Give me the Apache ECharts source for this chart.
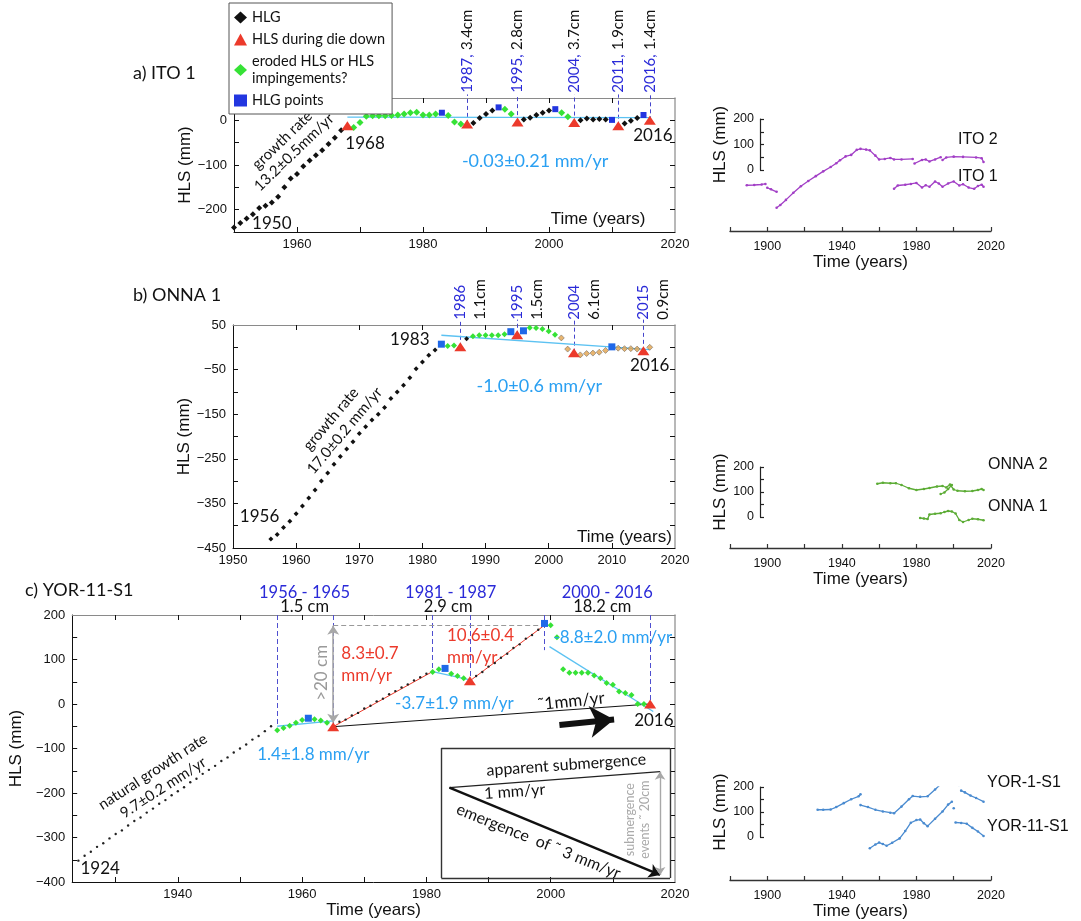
<!DOCTYPE html>
<html><head><meta charset="utf-8">
<script src="https://cdn.jsdelivr.net/npm/echarts@6/dist/echarts.min.js"></script>
<style>html,body{margin:0;padding:0;background:#fff}#c{width:1081px;height:921px}</style>
</head><body><div id="c"></div>
<script>
// ================= DATA =================
// ---- a) ITO 1 ----
const itoHLG = [[1950,-240],[1951,-230],[1952,-220],[1953,-210],[1954,-196],[1955,-191],[1956,-184],[1957,-171],[1958,-150],[1959,-130],[1960,-120],[1961,-103],[1962,-90],[1963,-78],[1964,-67],[1965,-53],[1966,-39],[1967,-22],
  [1988,-6],[1989,5],[1990,14],[1991,22],[1996,2],[1997,6],[1998,12],[1999,17],[2000,22],[2005,0],[2006,4],[2007,2],[2008,3],[2009,2],[2012,-7],[2013,-1],[2014,5]];
const itoDieDown = [[1968,-12],[1987,-8],[1995,-4],[2004,-5],[2011,-12],[2016,0]];
const itoEroded = [[1969,-16],[1970,-5],[1971,9],[1972,10],[1973,10],[1974,10],[1975,11],[1976,12],[1977,14],[1978,17],[1979,18],[1980,12],[1981,12],[1982,14],[1984,11],[1985,-4],[1986,-8],[1993,25],[1994,14],[2002,17],[2003,8]];
const itoHLGPoints = [[1983,17],[1992,29],[2001,25],[2010,1],[2015,12]];
const itoTrend = [[1968,7],[2016,6]];
const itoEventYears = [1987,1995,2004,2011,2016];
const itoEventDrop = ['3.4cm','2.8cm','3.7cm','1.9cm','1.4cm'];

// ---- b) ONNA 1 ----
const onnaHLG = [[1956,-430],[1957,-420],[1958,-404],[1959,-390],[1960,-373],[1961,-356],[1962,-338],[1963,-320],[1964,-300],[1965,-282],[1966,-262],[1967,-245],[1968,-228],[1969,-212],[1970,-193],[1971,-178],[1972,-163],[1973,-150],[1974,-135],[1975,-115],[1976,-100],[1977,-85],[1978,-68],[1979,-48],[1980,-33],[1981,-18],[1982,-6],[1987,19]];
const onnaHLGLate = [[2002,21],[2003,-4],[2005,-17],[2006,-14],[2007,-13],[2008,-11],[2009,-7],[2011,-2],[2012,-3],[2013,-3],[2014,-4],[2016,0]];
const onnaDieDown = [[1986,1],[1995,28],[2004,-12],[2015,-8]];
const onnaEroded = [[1984,3],[1985,4],[1988,25],[1989,27],[1990,27],[1991,27],[1992,27],[1993,29],[1997,44],[1998,43],[1999,41],[2000,36],[2001,28]];
const onnaHLGPoints = [[1983,7],[1994,35],[1996,37],[2010,1]];
const onnaTrend = [[1983,27],[2016,-5]];
const onnaEventYears = [1986,1995,2004,2015];
const onnaEventDrop = ['1.1cm','1.5cm','6.1cm','0.9cm'];

// ---- c) YOR-11-S1 ----
const yorHLG = [[1924,-352],[1925,-341],[1926,-332],[1927,-321],[1928,-313],[1929,-302],[1930,-292],[1931,-284],[1932,-273],[1933,-263],[1934,-255],[1935,-244],[1936,-235],[1937,-224],[1938,-216],[1939,-205],[1940,-196],[1941,-187],[1942,-176],[1943,-168],[1944,-157],[1945,-148],[1946,-139],[1947,-128],[1948,-120],[1949,-109],[1950,-100],[1951,-91],[1952,-80],[1953,-72],[1954,-61],[1955,-50],
  [1966,-40],[1967,-35],[1968,-26],[1969,-20],[1970,-10],[1971,-4],[1972,6],[1973,12],[1974,22],[1975,29],[1976,37],[1977,44],[1978,53],[1979,60],[1980,68],
  [1988,63],[1989,72],[1990,84],[1991,92],[1992,104],[1993,113],[1994,126],[1995,134],[1996,147],[1997,155],[1998,167]];
const yorDieDown = [[1965,-51],[1987,52],[2016,0]];
const yorEroded = [[1956,-59],[1957,-54],[1958,-49],[1959,-42],[1960,-36],[1962,-34],[1963,-37],[1964,-42],[1981,72],[1982,78],[1984,68],[1985,63],[1986,58],
  [2000,177],[2001,150],[2002,78],[2003,70],[2004,70],[2005,70],[2006,70],[2007,64],[2008,58],[2009,47],[2010,43],[2011,28],[2012,25],[2013,20],[2014,0],[2015,0]];
const yorHLGPoints = [[1961,-32],[1983,80],[1999,181]];
const yorTrends = [[[1956,-50],[1965,-38]],[[1981,73],[1987,54]],[[1999.8,129],[2016.5,-17]]];
const yorRises = [[[1965,-51],[1981,73]],[[1987,52],[1999,177]]];
const yorLongTerm = [[1965,-51],[2016,0]];
const yorEventYears = [1956,1965,1981,1987,1999,2016];
const yorEventBottom = [-47,-45,73,52,121,0];
const yorPeriods = ['1956 - 1965','1981 - 1987','2000 - 2016'];
const yorPeriodDrop = ['1.5 cm','2.9 cm','18.2 cm'];
const yorSubmergence = [[1965,-42],[1965,176]];
const yorPeak = [[1965,177],[1999,177]];

// ---- small panels ----
const ito2 = [
  [[1889,-62],[1893,-61],[1897,-59],[1899,-57]],
  [[1900,-72],[1902,-78],[1905,-88]],
  [[1905,-151],[1907,-140],[1910,-120],[1914,-92],[1918,-66],[1922,-45],[1926,-26],[1930,-7],[1934,10],[1937,25],[1939,37],[1942,52],[1945,58],[1948,78],[1950,82],[1953,79],[1955,76],[1958,55],[1960,40],[1963,42],[1966,46],[1968,40],[1972,40],[1978,42]],
  [[1979,24],[1983,38],[1985,40],[1987,32],[1990,40],[1993,49]],
  [[1994,38],[1996,48],[2000,51],[2005,50],[2012,48],[2015,45],[2016,30]]];
const ito1 = [[[1968,-76],[1970,-63],[1974,-60],[1977,-57],[1980,-53],[1983,-71],[1985,-62],[1987,-68],[1990,-47],[1992,-55],[1994,-68],[1997,-55],[2000,-47],[2003,-63],[2005,-58],[2008,-71],[2011,-76],[2013,-65],[2015,-60],[2016,-68]]];
const onna2 = [
  [[1959,133],[1962,137],[1966,135],[1969,135],[1972,128],[1976,115],[1980,108],[1984,112],[1987,116],[1991,122],[1994,124],[1996,118],[1998,130],[2000,110],[2002,105],[2006,103],[2010,104],[2013,108],[2015,112],[2016,108]],
  [[1993,92],[1995,98],[1997,112],[1999,128]]];
const onna1 = [[[1982,-4],[1984,-6],[1986,-8],[1987,10],[1990,13],[1993,15],[1995,20],[1997,24],[1999,22],[2001,14],[2003,-12],[2005,-20],[2008,-12],[2010,-7],[2013,-9],[2016,-13]]];
const yor1 = [
  [[1927,107],[1930,107],[1934,108],[1937,118],[1941,134],[1945,150],[1949,162],[1950,170]],
  [[1950,126],[1954,118],[1958,107],[1962,100],[1966,95],[1968,93],[1972,120],[1976,150],[1978,163],[1982,160],[1986,162],[1990,190],[1994,218],[1998,245],[1999,240]],
  [[2000,210],[2003,206]],
  [[2004,185],[2006,178],[2009,165],[2012,155],[2016,140]]];
const yor11 = [
  [[1955,-50],[1958,-35],[1960,-27],[1962,-33],[1964,-40],[1967,-28],[1971,-10],[1974,20],[1977,54],[1980,65],[1982,67],[1984,52],[1986,40],[1990,70],[1994,100],[1997,128],[1999,140]],
  [[2000,113]],
  [[2001,55],[2004,53],[2007,50],[2010,33],[2013,18],[2016,0]]];

// ---- tick labels ----
const aXTicks = [1960,1970,1980,1990,2000,2010], aXLabels = [1960,1980,2000,2020];
const aYTicks = [-200,-150,-100,-50,0], aYLabels = [-200,-100,0];
const bXTicks = [1960,1970,1980,1990,2000,2010], bXLabels = [1950,1960,1970,1980,1990,2000,2010,2020];
const bYTicks = [-400,-350,-300,-250,-200,-150,-100,-50,0], bYLabels = [-450,-350,-250,-150,-50,50];
const cXTicks = [1930,1940,1950,1960,1970,1980,1990,2000,2010], cXLabels = [1940,1960,1980,2000,2020];
const cYTicks = [-350,-300,-250,-200,-150,-100,-50,0,50,100,150], cYLabels = [-400,-300,-200,-100,0,100,200];
const sXTicks = [1880,1900,1920,1940,1960,1980,2000,2020], sXLabels = [1900,1940,1980,2020];
const sYTicks = [0,50,100,150,200], sYLabels = [0,100,200];

// ================= STYLE =================
const FT = '"Liberation Sans", Arial, sans-serif';
const FA = 'Lato, "Open Sans", sans-serif';
const INK = '#111';
const GREEN = '#36e236', RED = '#ec3a2b', BLUE_A = '#2236e0', BLUE_B = '#1f68e8';
const CYAN = '#5cc2f2', CYAN_T = '#2aa0f2', DASH = '#4444cc', LBLUE = '#2a2ad8';
const GREY = '#a8a8a8';
const neg = v => v < 0 ? '\u2212' + (-v) : '' + v;
const plain = v => '' + v;

const xAxis = [], yAxis = [];
function mainAxes(g, xr, yr, xt, xl, yt, yl, yName, yGap, xName) {
  xAxis.push({gridIndex: g, type: 'value', min: xr[0], max: xr[1], position: 'bottom',
    axisLine: {onZero: false, lineStyle: {color: INK, width: 1}},
    axisTick: {inside: true, length: 5, customValues: xt, lineStyle: {color: INK}},
    axisLabel: {customValues: xl, fontSize: 13, fontFamily: FT, color: INK, margin: 6, formatter: plain},
    splitLine: {show: false},
    name: xName || '', nameLocation: 'middle', nameGap: 20,
    nameTextStyle: {fontSize: 17, fontFamily: FT, color: INK}});
  xAxis.push({gridIndex: g, type: 'value', min: xr[0], max: xr[1], position: 'top',
    axisLine: {onZero: false, lineStyle: {color: '#8a8a8a', width: 1}},
    axisTick: {inside: true, length: 5, customValues: xt, lineStyle: {color: INK}},
    axisLabel: {show: false}, splitLine: {show: false}});
  yAxis.push({gridIndex: g, type: 'value', min: yr[0], max: yr[1], position: 'left',
    axisLine: {onZero: false, lineStyle: {color: INK, width: 1}},
    axisTick: {inside: true, length: 5, customValues: yt, lineStyle: {color: INK}},
    axisLabel: {customValues: yl, fontSize: 13, fontFamily: FT, color: INK, margin: 7, formatter: neg},
    splitLine: {show: false},
    name: yName, nameLocation: 'middle', nameGap: yGap,
    nameTextStyle: {fontSize: 17, fontFamily: FT, color: INK}});
  yAxis.push({gridIndex: g, type: 'value', min: yr[0], max: yr[1], position: 'right',
    axisLine: {onZero: false, lineStyle: {color: '#a0a0a0', width: 1.5}},
    axisTick: {inside: true, length: 5, customValues: yt, lineStyle: {color: INK}},
    axisLabel: {show: false}, splitLine: {show: false}});
}
mainAxes(0, [1950, 2020], [-250, 50], aXTicks, aXLabels, aYTicks, aYLabels, 'HLS (mm)', 36);
mainAxes(1, [1950, 2020], [-450, 50], bXTicks, bXLabels, bYTicks, bYLabels, 'HLS (mm)', 36);
mainAxes(2, [1923, 2020], [-400, 200], cXTicks, cXLabels, cYTicks, cYLabels, 'HLS (mm)', 36, 'Time (years)');
// small panels: x axes 6,7,8 ; hidden y 6,7,8
const smallY = [[-243, 200], [-124, 200], [-180, 200]];
for (let i = 0; i < 3; i++) {
  xAxis.push({gridIndex: 3 + i, type: 'value', min: 1880, max: 2020, position: 'bottom',
    axisLine: {onZero: false, lineStyle: {color: '#333', width: 1.4}},
    axisTick: {inside: true, length: 4, customValues: sXTicks, lineStyle: {color: '#333', width: 1.2}},
    axisLabel: {customValues: sXLabels, fontSize: 12.5, fontFamily: FT, color: INK, margin: 9, formatter: plain},
    splitLine: {show: false},
    name: 'Time (years)', nameLocation: 'middle', nameGap: 23,
    nameTextStyle: {fontSize: 17, fontFamily: FT, color: INK}});
}
for (let i = 0; i < 3; i++) {
  yAxis.push({gridIndex: 3 + i, type: 'value', min: smallY[i][0], max: smallY[i][1], show: false});
}
for (let i = 0; i < 3; i++) {
  xAxis.push({gridIndex: 6 + i, type: 'value', min: 0, max: 1, show: false});
  yAxis.push({gridIndex: 6 + i, type: 'value', min: 0, max: 200, position: 'left',
    axisLine: {onZero: false, lineStyle: {color: '#222', width: 1.2}},
    axisTick: {inside: true, length: 4, customValues: sYTicks, lineStyle: {color: '#222', width: 1.2}},
    axisLabel: {customValues: sYLabels, fontSize: 12.5, fontFamily: FT, color: INK, margin: 6},
    splitLine: {show: false},
    name: 'HLS (mm)', nameLocation: 'middle', nameGap: 30,
    nameTextStyle: {fontSize: 17, fontFamily: FT, color: INK}});
}

// ================= SERIES HELPERS =================
function pts(xi, name, data, symbol, size, color, extra) {
  return Object.assign({type: 'scatter', name: name, xAxisIndex: xi, yAxisIndex: xi, data: data,
    symbol: symbol, symbolSize: size, itemStyle: {color: color, opacity: 1}, silent: true, z: 5}, extra || {});
}
function segs(xi, list, color, width, type, symbol, symbolSize, z) {
  return {type: 'lines', coordinateSystem: 'cartesian2d', xAxisIndex: xi, yAxisIndex: xi, clip: false, silent: true,
    symbol: symbol || 'none', symbolSize: symbolSize || 8, z: z || 3,
    lineStyle: {color: color, width: width, type: type || 'solid', opacity: 1},
    data: list.map(c => ({coords: c}))};
}
function ann(xi, yi, items) {
  return {type: 'custom', xAxisIndex: xi, yAxisIndex: yi, silent: true, clip: false, z: 20,
    data: items.map(a => [a.x, a.y]),
    renderItem: function (params, api) {
      const a = items[params.dataIndex];
      const p = api.coord([api.value(0), api.value(1)]);
      return {type: 'text', x: p[0] + (a.dx || 0), y: p[1] + (a.dy || 0), rotation: (a.r || 0) * Math.PI / 180,
        style: {text: a.t, fill: a.c || INK, fontSize: a.s || 17, fontFamily: a.f || FA,
          align: a.a || 'center', verticalAlign: a.v || 'middle', lineHeight: a.lh, rich: a.rich}};
    }};
}
function curve(xi, list, color) {
  return list.map(seg => ({type: 'line', xAxisIndex: xi, yAxisIndex: xi, data: seg, silent: true,
    showSymbol: true, symbol: 'circle', symbolSize: 2.6, itemStyle: {color: color},
    lineStyle: {color: color, width: 1.3}}));
}
const valAt = (arr, yr) => { const p = arr.find(d => d[0] === yr); return p ? p[1] : 0; };

const series = [];
// ---------- panel a ----------
series.push(segs(0, itoEventYears.map(y => [[y, valAt(itoDieDown, y)], [y, 58]]), DASH, 1, [4, 3]));
series.push(segs(0, [itoTrend], CYAN, 1.3));
series.push(pts(0, 'HLG', itoHLG, 'diamond', 6, INK));
series.push(pts(0, 'eroded HLS or HLS impingements?', itoEroded, 'diamond', 7, GREEN));
series.push(pts(0, 'HLG points', itoHLGPoints, 'rect', 6, BLUE_A));
series.push(pts(0, 'HLS during die down', itoDieDown, 'triangle', [12, 9], RED, {z: 6}));
const richA = {b: {fill: LBLUE, fontSize: 15, fontFamily: FA}, k: {fill: INK, fontSize: 15, fontFamily: FA}};
series.push(ann(0, 0, [
  {t: '1968', x: 1970.8, y: -52},
  {t: '1950', x: 1956.0, y: -232},
  {t: '2016', x: 2016.5, y: -33},
  {t: '-0.03\u00b10.21 mm/yr', x: 1997.8, y: -91, s: 18, c: CYAN_T},
  {t: 'growth rate\n13.2\u00b10.5mm/yr', x: 1958.6, y: -58, r: 44, s: 15, lh: 17},
  {t: 'Time (years)', x: 2015.3, y: -221, a: 'right', f: FT}
].concat(itoEventYears.map((y, i) => ({t: '{b|' + y + ',} {k|' + itoEventDrop[i] + '}', x: y, y: 62, r: 90, a: 'left', rich: richA})))));

// ---------- panel b ----------
series.push(segs(2, onnaEventYears.map(y => [[y, valAt(onnaDieDown, y)], [y, 62]]), DASH, 1, [4, 3]));
series.push(segs(2, [onnaTrend], CYAN, 1.3));
series.push(pts(2, 'b HLG', onnaHLG, 'diamond', 5, INK));
series.push(pts(2, 'b HLG late', onnaHLGLate, 'diamond', 6, '#e2a24c', {itemStyle: {color: '#e2a24c', borderColor: '#555', borderWidth: 0.6}}));
series.push(pts(2, 'b eroded', onnaEroded, 'diamond', 6, GREEN));
series.push(pts(2, 'b HLG points', onnaHLGPoints, 'rect', 7, BLUE_B));
series.push(pts(2, 'b die down', onnaDieDown, 'triangle', [12, 9], RED, {z: 6}));
series.push(ann(2, 2, [
  {t: '1983', x: 1978.0, y: 18},
  {t: '1956', x: 1954.2, y: -379},
  {t: '2016', x: 2016.0, y: -40},
  {t: '-1.0\u00b10.6 mm/yr', x: 1998.5, y: -88, s: 18, c: CYAN_T},
  {t: 'growth rate\n17.0\u00b10.2 mm/yr', x: 1966.6, y: -174, r: 50, s: 15, lh: 18},
  {t: 'Time (years)', x: 2019.5, y: -425, a: 'right', f: FT}
].concat(onnaEventYears.map(y => ({t: '' + y, x: y, y: 62, r: 90, a: 'left', s: 15, c: LBLUE})))
 .concat(onnaEventYears.map((y, i) => ({t: onnaEventDrop[i], x: y, y: 62, dx: 20, r: 90, a: 'left', s: 15})))));

// ---------- panel c ----------
series.push(segs(4, yorEventYears.map((y, i) => [[y, 200], [y, yorEventBottom[i]]]), '#4f4fd0', 1, [5, 3]));
series.push(segs(4, [yorPeak], '#999', 1, [5, 3]));
series.push(segs(4, [yorSubmergence], GREY, 1.6, 'solid', ['arrow', 'arrow'], 9, 4));
series.push(segs(4, yorRises, RED, 1));
series.push(segs(4, [yorLongTerm], INK, 1));
series.push(segs(4, yorTrends, CYAN, 1.3));
series.push(segs(4, [[[2001.4, -47], [2010.2, -35]]], INK, 6, 'solid', ['none', 'arrow'], [26, 24], 4));
// inset schematic
series.push(segs(4, [[[1982.4, -99], [2019.2, -99]], [[2019.2, -99], [2019.2, -391]], [[2019.2, -391], [1982.4, -391]], [[1982.4, -391], [1982.4, -99]]], '#333', 1.4));
series.push(segs(4, [[[1983.7, -188], [2017.6, -152]]], '#222', 1.1));
series.push(segs(4, [[[1983.7, -188], [2017.6, -384]]], INK, 2.4, 'solid', ['none', 'arrow'], 11, 4));
series.push(segs(4, [[[2017.6, -152], [2017.6, -384]]], GREY, 1.4, 'solid', ['arrow', 'arrow'], 8, 4));
series.push(pts(4, 'c HLG', yorHLG, 'circle', 2.4, '#222'));
series.push(pts(4, 'c eroded', yorEroded, 'diamond', 6, GREEN));
series.push(pts(4, 'c HLG points', yorHLGPoints, 'rect', 7, BLUE_B));
series.push(pts(4, 'c die down', yorDieDown, 'triangle', [12, 9], RED, {z: 6}));
series.push(ann(4, 4, [
  {t: yorPeriods[0], x: 1960.4, y: 251, c: LBLUE, s: 16.5},
  {t: yorPeriods[1], x: 1983.9, y: 251, c: LBLUE, s: 16.5},
  {t: yorPeriods[2], x: 2009.1, y: 251, c: LBLUE, s: 16.5},
  {t: yorPeriodDrop[0], x: 1960.4, y: 218, s: 16.5},
  {t: yorPeriodDrop[1], x: 1983.5, y: 218, s: 16.5},
  {t: yorPeriodDrop[2], x: 2008.3, y: 218, s: 16.5},
  {t: '8.3\u00b10.7\nmm/yr', x: 1966.3, y: 88, a: 'left', c: RED, lh: 22},
  {t: '10.6\u00b10.4\nmm/yr', x: 1983.3, y: 130, a: 'left', c: RED, lh: 22},
  {t: '1.4\u00b11.8 mm/yr', x: 1961.8, y: -114, c: CYAN_T},
  {t: '-3.7\u00b11.9 mm/yr', x: 1984.5, y: 0, c: CYAN_T},
  {t: '-8.8\u00b12.0 mm/yr', x: 2010.0, y: 150, c: CYAN_T},
  {t: '2016', x: 2016.6, y: -36},
  {t: '1924', x: 1927.5, y: -369},
  {t: '>20 cm', x: 1963.1, y: 70, r: 90, c: '#9a9a9a'},
  {t: '\u02dc1mm/yr', x: 2003.3, y: 6, r: 6},
  {t: 'natural growth rate\n9.7\u00b10.2 mm/yr', x: 1936.8, y: -170, r: 33, s: 15, lh: 19},
  {t: 'apparent submergence', x: 2002.5, y: -137, r: 4, s: 16},
  {t: '1 mm/yr', x: 1994.2, y: -197, r: 4, s: 16},
  {t: 'emergence  of \u02dc 3 mm/yr', x: 1999.0, y: -275, dx: -6, dy: 15, r: -22, s: 16},
  {t: 'submergence\nevents \u02dc 20cm', x: 2014.0, y: -260, r: 90, s: 12.5, lh: 15, c: '#aaaaaa'}
]));

// ---------- small panels ----------
series.push(...curve(6, ito2, '#a23fc6'), ...curve(6, ito1, '#a23fc6'));
series.push(...curve(7, onna2, '#5cac35'), ...curve(7, onna1, '#5cac35'));
series.push(...curve(8, yor1, '#4a8bd0'), ...curve(8, yor11, '#4a8bd0'));
series.push(ann(6, 6, [{t: 'ITO 2', x: 2002.3, y: 118, a: 'left', f: FT, s: 16}, {t: 'ITO 1', x: 2002.3, y: -28, a: 'left', f: FT, s: 16}]));
series.push(ann(7, 7, [{t: 'ONNA 2', x: 2018.4, y: 209, a: 'left', f: FT, s: 16}, {t: 'ONNA 1', x: 2018.4, y: 41, a: 'left', f: FT, s: 16}]));
series.push(ann(8, 8, [{t: 'YOR-1-S1', x: 2017.9, y: 219, a: 'left', f: FT, s: 16}, {t: 'YOR-11-S1', x: 2017.9, y: 39, a: 'left', f: FT, s: 16}]));

const option = {
  animation: false,
  backgroundColor: '#fff',
  textStyle: {fontFamily: FT},
  grid: [
    {left: 234, top: 98, width: 441, height: 134},
    {left: 233, top: 325, width: 442, height: 223},
    {left: 67, top: 615, width: 608, height: 267},
    {left: 730, top: 119, width: 261, height: 112},
    {left: 730, top: 467, width: 261, height: 81},
    {left: 730, top: 787, width: 261, height: 95},
    {left: 760, top: 119, width: 20, height: 51},
    {left: 760, top: 467, width: 20, height: 50},
    {left: 760, top: 787, width: 20, height: 50}
  ],
  xAxis: xAxis, yAxis: yAxis,
  legend: {
    orient: 'vertical', left: 229, top: 3, itemGap: 5, itemWidth: 13, itemHeight: 12,
    padding: [6, 7, 5, 5], borderColor: '#555', borderWidth: 1, backgroundColor: '#fff',
    selectedMode: false, z: 30,
    textStyle: {fontFamily: FA, fontSize: 14.5, color: INK, lineHeight: 17},
    formatter: n => n === 'eroded HLS or HLS impingements?' ? 'eroded HLS or HLS\nimpingements?' : n,
    data: [{name: 'HLG', icon: 'diamond'}, {name: 'HLS during die down', icon: 'triangle'},
           {name: 'eroded HLS or HLS impingements?', icon: 'diamond'}, {name: 'HLG points', icon: 'rect'}]
  },
  graphic: [
    {type: 'text', left: 133, top: 64, style: {text: 'a) ITO 1', fontSize: 18, fontFamily: FA, fill: INK}},
    {type: 'text', left: 133, top: 286, style: {text: 'b) ONNA 1', fontSize: 18, fontFamily: FA, fill: INK}},
    {type: 'text', left: 25, top: 581, style: {text: 'c) YOR-11-S1', fontSize: 18, fontFamily: FA, fill: INK}}
  ],
  series: series
};
const chart = echarts.init(document.getElementById('c'));
chart.setOption(option);
</script></body></html>
